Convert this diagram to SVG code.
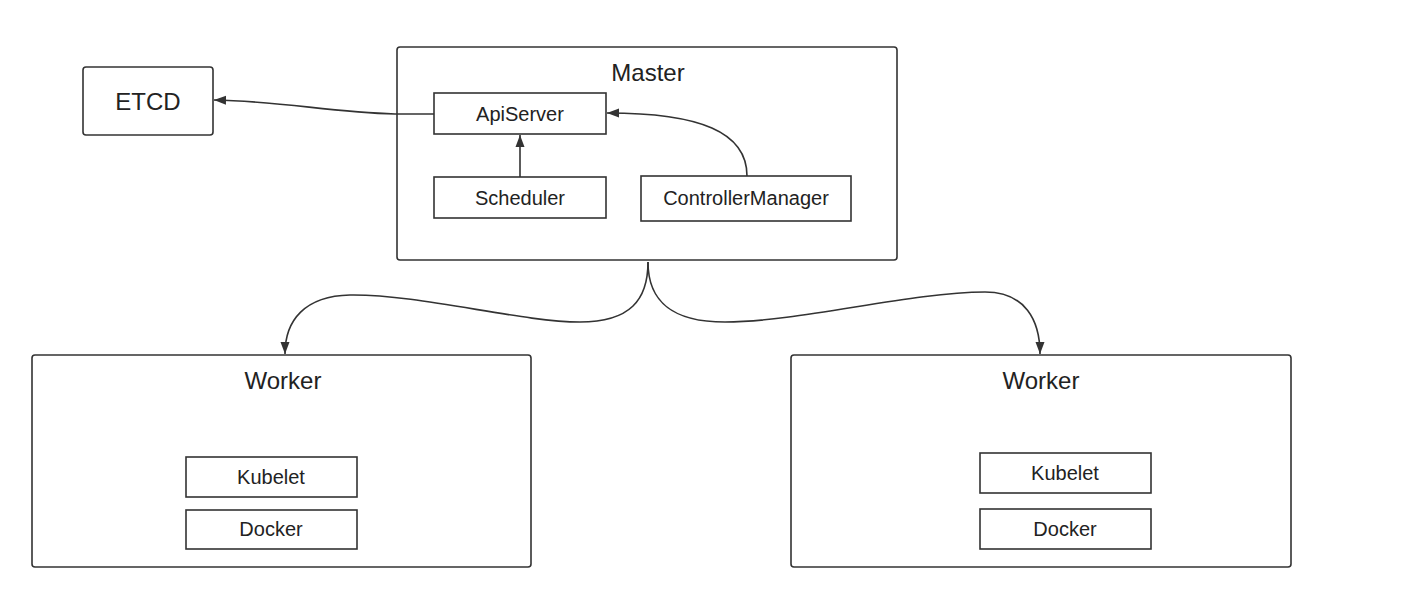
<svg xmlns="http://www.w3.org/2000/svg" width="1422" height="593" viewBox="0 0 1422 593">
<style>
.box{fill:#fff;stroke:#333;stroke-width:1.6}
.t{font-family:"Liberation Sans",Arial,sans-serif;fill:#222;text-anchor:middle;dominant-baseline:central}
.title{font-size:24px}
.lbl{font-size:20px}
.edge{fill:none;stroke:#333;stroke-width:1.6}
</style>
<defs>
<marker id="arr" viewBox="0 0 12 10" refX="12" refY="5" markerWidth="12" markerHeight="10" markerUnits="userSpaceOnUse" orient="auto">
<path d="M0,0.5 L12,5 L0,9.5 Z" fill="#333"/>
</marker>
</defs>
<rect width="1422" height="593" fill="#fff"/>
<g id="etcd"><rect class="box" x="83" y="67" width="130" height="68" rx="3"/><text class="t title" x="148" y="101">ETCD</text></g>
<g id="master"><rect class="box" x="397" y="47" width="500" height="213" rx="3"/><text class="t title" x="648" y="72">Master</text></g>
<g id="apiserver"><rect class="box" x="434" y="93" width="172" height="41"/><text class="t lbl" x="520" y="114">ApiServer</text></g>
<g id="scheduler"><rect class="box" x="434" y="177" width="172" height="41"/><text class="t lbl" x="520" y="198">Scheduler</text></g>
<g id="controllermanager"><rect class="box" x="641" y="176" width="210" height="45"/><text class="t lbl" x="746" y="198">ControllerManager</text></g>
<g id="worker1"><rect class="box" x="32" y="355" width="499" height="212" rx="3"/><text class="t title" x="283" y="380">Worker</text></g>
<g id="kubelet1"><rect class="box" x="186" y="457" width="171" height="40"/><text class="t lbl" x="271" y="477">Kubelet</text></g>
<g id="docker1"><rect class="box" x="186" y="510" width="171" height="39"/><text class="t lbl" x="271" y="529">Docker</text></g>
<g id="worker2"><rect class="box" x="791" y="355" width="500" height="212" rx="3"/><text class="t title" x="1041" y="380">Worker</text></g>
<g id="kubelet2"><rect class="box" x="980" y="453" width="171" height="40"/><text class="t lbl" x="1065" y="473">Kubelet</text></g>
<g id="docker2"><rect class="box" x="980" y="509" width="171" height="40"/><text class="t lbl" x="1065" y="529">Docker</text></g>
<g id="connectors">
<path class="edge" marker-end="url(#arr)" d="M434,114 L395,114 C330,112 280,101 214,100"/>
<path class="edge" marker-end="url(#arr)" d="M520,177 L520,135"/>
<path class="edge" marker-end="url(#arr)" d="M747,176 C747,132 700,113 607,113"/>
<path class="edge" marker-end="url(#arr)" d="M648,262 C648,300 630,322 580,322 C520,322 420,294 350,295 C305,296 285,320 285,354"/>
<path class="edge" marker-end="url(#arr)" d="M648,262 C648,300 670,322 725,322 C800,322 910,292 985,292 C1025,292 1040,320 1040,354"/>
</g>
</svg>
